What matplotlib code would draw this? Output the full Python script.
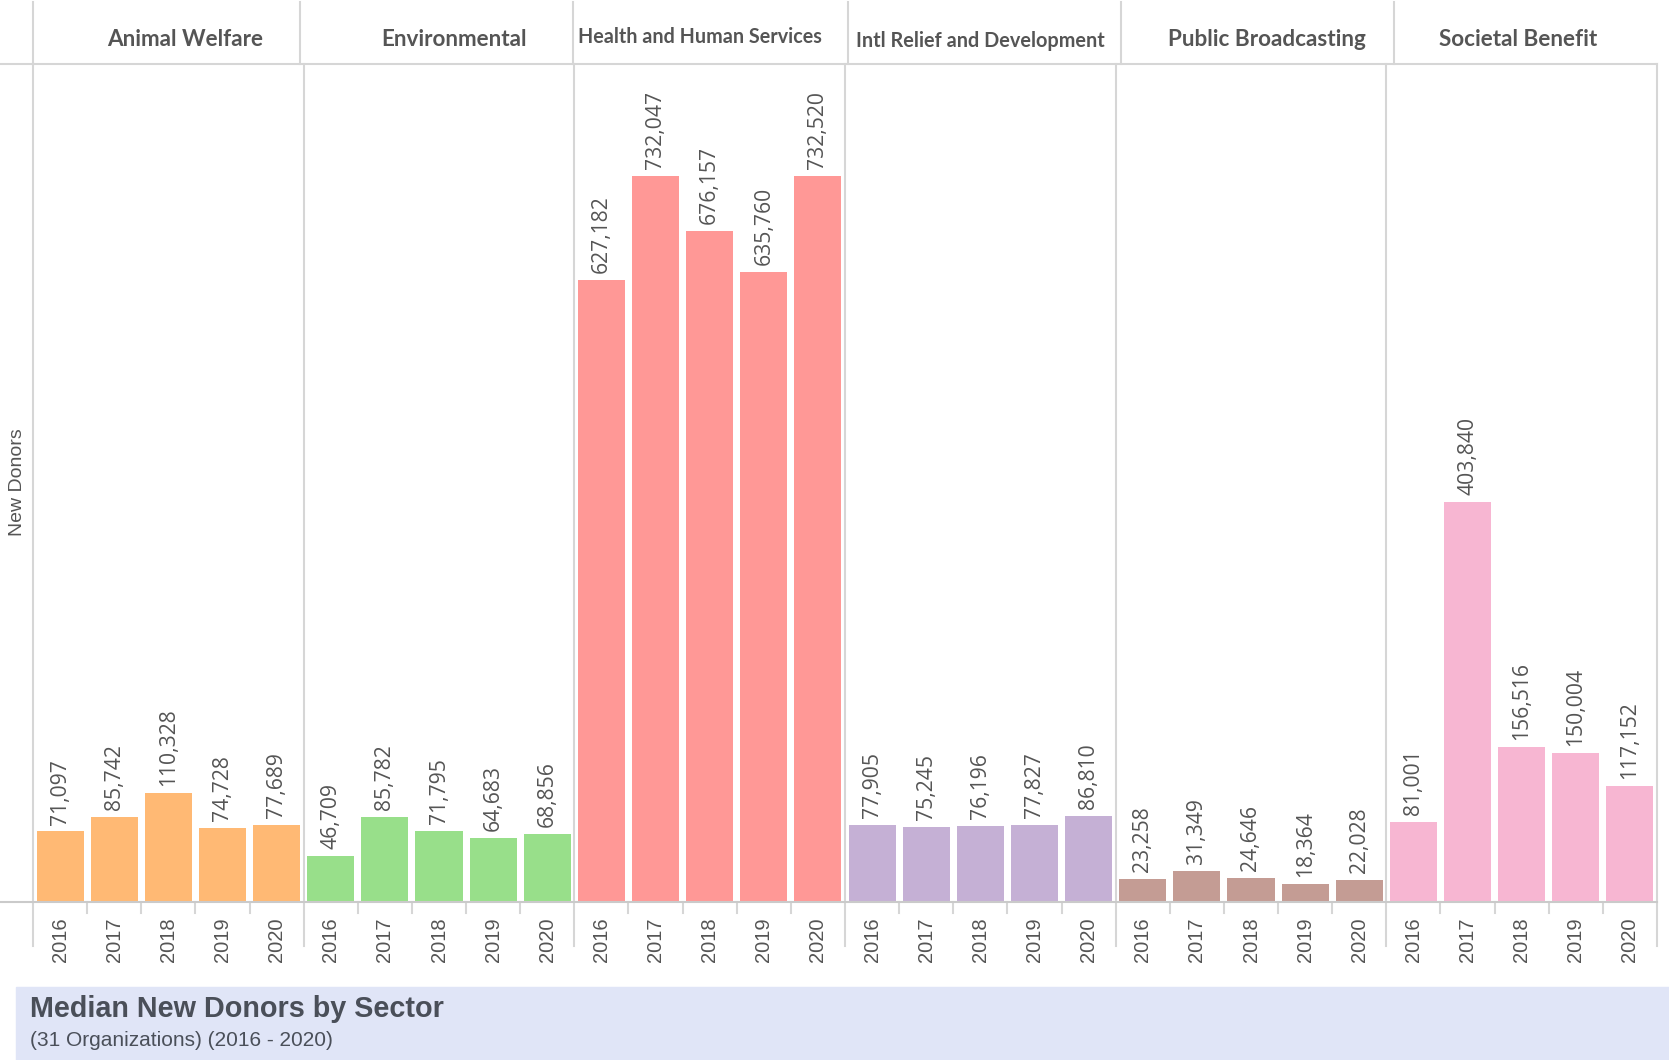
import matplotlib.pyplot as plt
from matplotlib.lines import Line2D
from matplotlib.patches import Rectangle
import numpy as np

# sectors and years
sectors = ["Animal Welfare", "Environmental", "Health and Human Services",
           "Intl Relief and Development", "Public Broadcasting", "Societal Benefit"]
years = ["2016", "2017", "2018", "2019", "2020"]

# median new donors per sector, one value per year
animal_welfare = [71097, 85742, 110328, 74728, 77689]
environmental = [46709, 85782, 71795, 64683, 68856]
health_human = [627182, 732047, 676157, 635760, 732520]
intl_relief = [77905, 75245, 76196, 77827, 86810]
public_broadcasting = [23258, 31349, 24646, 18364, 22028]
societal_benefit = [81001, 403840, 156516, 150004, 117152]

series = [animal_welfare, environmental, health_human,
          intl_relief, public_broadcasting, societal_benefit]
colors = ["#FFB974", "#98DF8A", "#FF9896", "#C5B0D5", "#C49C94", "#F7B6D2"]

W, H = 1669, 1060
fig = plt.figure(figsize=(W / 100, H / 100), dpi=100)

# plot area in pixels
left, right, top, base = 33, 1657, 64, 902
ax = fig.add_axes([left / W, 1 - base / H, (right - left) / W, (base - top) / H])

grid_c = "#d6d6d6"
text_c = "#555555"
n = len(years)

for i, (vals, col) in enumerate(zip(series, colors)):
    x = np.arange(n) + i * n
    ax.bar(x, vals, width=0.87, color=col, zorder=2)
    for xi, v in zip(x, vals):
        ax.annotate(f"{v:,}", (xi, v), xytext=(0, 5), textcoords="offset points",
                    rotation=90, ha="center", va="bottom", fontsize=15.2,
                    family="Open Sans", color=text_c)

total = n * len(sectors)
ax.set_xlim(-0.5, total - 0.5)
ax.set_ylim(0, 845000)
ax.set_xticks(np.arange(total))
ax.set_xticklabels(years * len(sectors), rotation=90, fontsize=14.5,
                   family="Liberation Sans", color=text_c)
ax.tick_params(axis="x", length=0, pad=11)
ax.set_yticks([])
for s in ax.spines.values():
    s.set_visible(False)

trans = ax.get_xaxis_transform()
# panel dividers, running a little below the axis
for b in np.arange(0, total + 1, n) - 0.5:
    ax.add_line(Line2D([b, b], [-0.052, 1], transform=trans, color=grid_c,
                       lw=1.5, clip_on=False, zorder=1))
# small ticks between the years
for b in np.arange(total + 1) - 0.5:
    if (b + 0.5) % n:
        ax.add_line(Line2D([b, b], [-0.013, 0], transform=trans, color=grid_c,
                           lw=1.5, clip_on=False, zorder=1))

# baseline and header rule across the full width
fig.add_artist(Line2D([0, right / W], [1 - base / H] * 2, color="#cacaca", lw=1.5))
fig.add_artist(Line2D([0, right / W], [1 - top / H] * 2, color=grid_c, lw=1.5))

# header cells
head_x = [33, 300, 573, 848, 1121, 1394]
for hx in head_x:
    fig.add_artist(Line2D([hx / W, hx / W], [1 - 2 / H, 1 - top / H], color=grid_c, lw=1.5))

head_cx = [185, 454, 700, 980, 1267, 1518]
head_y = [39, 39, 37, 41, 39, 39]
head_fs = [16.2, 16.2, 14.2, 14.3, 16.2, 16.2]
for name, cx, cy, fs in zip(sectors, head_cx, head_y, head_fs):
    fig.text(cx / W, 1 - cy / H, name, ha="center", va="center", fontsize=fs,
             family="Lato", weight="bold", color=text_c)

fig.text(17 / W, 1 - 482 / H, "New Donors", rotation=90, ha="center", va="center",
         fontsize=14, family="Liberation Sans", color=text_c)

# title band
fig.add_artist(Rectangle((16 / W, 0), 1 - 16 / W, 73 / H, transform=fig.transFigure,
                         color="#E0E5F7", zorder=0))
fig.text(30 / W, 1 - 1009 / H, "Median New Donors by Sector", ha="left", va="center",
         fontsize=20.7, weight="bold", family="Liberation Sans", color="#4A4F59")
fig.text(30 / W, 1 - 1041 / H, "(31 Organizations) (2016 - 2020)", ha="left",
         va="center", fontsize=15, family="Liberation Sans", color="#4A4F59")

fig.savefig("out.png", dpi=100)
